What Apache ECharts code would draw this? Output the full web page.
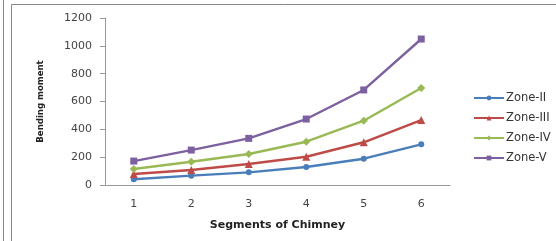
<!DOCTYPE html>
<html lang="en">
<head>
    <meta charset="UTF-8">
    <title>Bending moment</title>
    <script type="text/javascript" src="https://cdn.jsdelivr.net/npm/echarts@6/dist/echarts.min.js"></script>
    <style>
        html, body { margin: 0; padding: 0; background: #fff; }
        #main { width: 556px; height: 241px; }
    </style>
</head>
<body>
<div id="main"></div>
<script type="text/javascript">
    var segments = ['1', '2', '3', '4', '5', '6'];
    var zone2 = [41, 67, 91, 129, 189, 292];
    var zone3 = [79, 108, 151, 203, 307, 467];
    var zone4 = [115, 167, 223, 311, 462, 697];
    var zone5 = [172, 251, 335, 474, 683, 1049];

    const myChart = echarts.init(document.getElementById('main'));

    function line(name, data, color, symbol, size) {
        return {
            name: name,
            type: 'line',
            data: data,
            symbol: symbol,
            symbolSize: size,
            lineStyle: { color: color, width: 2.4 },
            itemStyle: { color: color },
            emphasis: { disabled: true }
        };
    }

    myChart.setOption({
        animation: false,
        textStyle: { fontFamily: 'DejaVu Sans' },
        graphic: [
            { type: 'line', shape: { x1: 3.5, y1: 0, x2: 3.5, y2: 241 }, style: { stroke: '#888', lineWidth: 1 } },
            { type: 'polyline', shape: { points: [[11.5, 241], [11.5, 4.5], [556, 4.5]] }, style: { stroke: '#888', fill: null, lineWidth: 1 } }
        ],
        grid: { left: 105, right: 106, top: 18, bottom: 56 },
        legend: {
            orient: 'vertical',
            left: 468,
            top: 87,
            itemGap: 8,
            itemWidth: 30,
            itemHeight: 6,
            textStyle: { fontSize: 11.5, color: '#333', padding: [0, 0, 0, -3] },
            data: ['Zone-II', 'Zone-III', 'Zone-IV', 'Zone-V']
        },
        xAxis: {
            type: 'category',
            data: segments,
            boundaryGap: true,
            name: 'Segments of Chimney',
            nameLocation: 'middle',
            nameGap: 35,
            nameTextStyle: { fontSize: 11, fontWeight: 'bold', color: '#222' },
            axisLine: { lineStyle: { color: '#999' } },
            axisTick: { show: false },
            axisLabel: { fontSize: 11, color: '#444', margin: 14 }
        },
        yAxis: {
            type: 'value',
            min: 0,
            max: 1200,
            interval: 200,
            name: 'Bending moment',
            nameLocation: 'middle',
            nameGap: 59,
            nameTextStyle: { fontSize: 9.5, fontWeight: 'bold', fontFamily: 'DejaVu Sans Condensed', color: '#222' },
            axisLine: { show: true, lineStyle: { color: '#999' } },
            axisTick: { show: true, length: 5, lineStyle: { color: '#999' } },
            axisLabel: { fontSize: 11, color: '#444', margin: 13, formatter: function (v) { return String(v); } },
            splitLine: { show: false }
        },
        series: [
            line('Zone-II', zone2, '#4a7ebb', 'circle', 6),
            line('Zone-III', zone3, '#be4b48', 'triangle', 8),
            line('Zone-IV', zone4, '#98b954', 'diamond', 8),
            line('Zone-V', zone5, '#7d60a0', 'rect', 7)
        ]
    });
</script>
</body>
</html>
